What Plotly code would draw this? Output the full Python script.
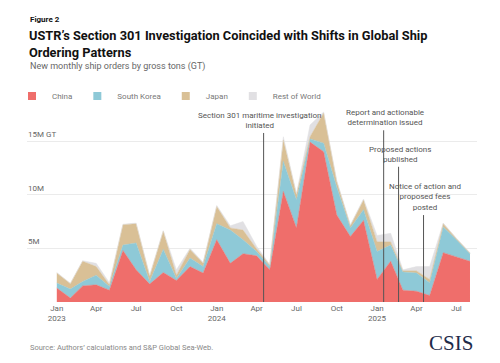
import plotly.graph_objects as go

# ---- data (millions of gross tons), monthly Jan 2023 .. Aug 2025 ----
months = ["2023-01-01","2023-02-01","2023-03-01","2023-04-01","2023-05-01","2023-06-01",
          "2023-07-01","2023-08-01","2023-09-01","2023-10-01","2023-11-01","2023-12-01",
          "2024-01-01","2024-02-01","2024-03-01","2024-04-01","2024-05-01","2024-06-01",
          "2024-07-01","2024-08-01","2024-09-01","2024-10-01","2024-11-01","2024-12-01",
          "2025-01-01","2025-02-01","2025-03-01","2025-04-01","2025-05-01","2025-06-01",
          "2025-07-01","2025-08-01"]
china = [1.3,0.37,1.5,1.6,1.1,4.8,3.0,1.67,2.75,2.0,3.3,2.7,
         5.8,3.6,4.5,4.3,3.0,10.3,6.9,14.9,14.0,8.1,6.1,7.6,
         2.1,3.8,1.1,1.0,0.6,4.6,4.2,3.8]
south_korea = [0.46,0.83,0.4,0.9,0.35,0.5,2.5,0.23,2.15,0.2,0.8,0.6,
               1.5,3.1,1.3,0.4,0.3,2.8,2.6,0.3,0.8,2.6,0.8,1.0,
               2.6,1.5,1.7,1.7,1.2,2.4,1.6,0.7]
japan = [0.94,0.5,1.9,0.8,0.15,1.9,1.8,0.5,1.7,0.3,0.8,0.3,
         1.6,0.2,0.9,0.25,0.15,2.0,0.5,0.2,2.8,0.5,0.2,0.9,
         0.9,0.3,0.1,0.2,0.3,0.3,0.1,0.05]
rest_of_world = [0.05,0.05,0.05,0.3,0.2,0.05,0.05,0.1,0.05,0.5,0.1,0.1,
                 0.1,0.2,0.8,0.25,0.05,0.3,0.1,1.1,0.1,0.1,0.1,0.1,
                 0.6,0.8,0.1,0.4,1.2,0.05,0.05,0.05]

series_names = ["China", "South Korea", "Japan", "Rest of World"]
series_values = [china, south_korea, japan, rest_of_world]
colors = ["#ef6e6b", "#8ec9d7", "#d9c096", "#e1e0e3"]

x_tickvals = ["2023-01-01","2023-04-01","2023-07-01","2023-10-01",
              "2024-01-01","2024-04-01","2024-07-01","2024-10-01",
              "2025-01-01","2025-04-01","2025-07-01"]
x_ticktext = ["Jan<br>2023","Apr","Jul","Oct","Jan<br>2024","Apr","Jul","Oct",
              "Jan<br>2025","Apr","Jul"]
y_tickvals = [5, 10, 15]
y_ticktext = ["5M", "10M", "15M GT"]

events = [
    ("2024-04-17", "Section 301 maritime investigation<br>initiated", 15.75, -4),
    ("2025-01-16", "Report and actionable<br>determination issued", 16.0, 1),
    ("2025-02-19", "Proposed actions<br>published", 12.6, 1),
    ("2025-04-17", "Notice of action and<br>proposed fees<br>posted", 8.1, 1),
]

# ---- layout geometry ----
W, H = 500, 363
ML, MR, MT, MB = 27, 23, 104, 61
PH = H - MT - MB

def py(pix):
    return (H - MB - pix) / PH

def px(pix):
    return (pix - ML) / (W - ML - MR)

FONT = "Roboto, Liberation Sans, sans-serif"

fig = go.Figure()
for name, vals, col in zip(series_names, series_values, colors):
    fig.add_trace(go.Scatter(
        x=months, y=vals, name=name, mode="lines", stackgroup="one",
        line=dict(width=0.5, color=col), fillcolor=col,
        showlegend=False, hoverinfo="skip", legendgroup=name))
for name, col in zip(series_names, colors):
    fig.add_trace(go.Scatter(
        x=[None], y=[None], name=name, mode="markers",
        marker=dict(symbol="square", size=8, color=col),
        showlegend=True, legendgroup=name))

shapes = []
annotations = []
for d, label, top, xs in events:
    shapes.append(dict(type="line", xref="x", yref="y", x0=d, x1=d, y0=0, y1=top,
                       line=dict(color="#555555", width=1), layer="above"))
    annotations.append(dict(x=d, y=top, xref="x", yref="y", text=label,
                            showarrow=False, xanchor="center", yanchor="bottom",
                            xshift=xs, yshift=1,
                            font=dict(family=FONT, size=8, color="#555555")))

# y-axis tick labels sitting above their gridlines at the left edge
for v, t in zip(y_tickvals, y_ticktext):
    annotations.append(dict(x=0, y=v, xref="paper", yref="y", text=t,
                            showarrow=False, xanchor="left", yanchor="bottom",
                            yshift=0, xshift=-1,
                            font=dict(family=FONT, size=8, color="#666666")))

annotations += [
    dict(x=px(28), y=py(20), xref="paper", yref="paper", text="<b>Figure 2</b>",
         showarrow=False, xanchor="left", yanchor="middle",
         font=dict(family=FONT, size=8, color="#111111")),
    dict(x=px(27), y=py(44), xref="paper", yref="paper",
         text="<b>USTR’s Section 301 Investigation Coincided with Shifts in Global Ship<br>Ordering Patterns</b>",
         showarrow=False, xanchor="left", yanchor="middle", align="left",
         font=dict(family=FONT, size=12.8, color="#111111")),
    dict(x=px(28), y=py(66), xref="paper", yref="paper",
         text="New monthly ship orders by gross tons (GT)",
         showarrow=False, xanchor="left", yanchor="middle",
         font=dict(family=FONT, size=9, color="#666666")),
    dict(x=px(28), y=py(347), xref="paper", yref="paper",
         text="Source: Authors’ calculations and S&amp;P Global Sea-Web.",
         showarrow=False, xanchor="left", yanchor="middle",
         font=dict(family=FONT, size=7.5, color="#888888")),
    dict(x=px(475), y=py(343), xref="paper", yref="paper", text="CSIS",
         showarrow=False, xanchor="right", yanchor="middle",
         font=dict(family="Liberation Serif, DejaVu Serif, serif", size=21, color="#1e2b4a")),
]

fig.update_layout(
    width=W, height=H,
    margin=dict(l=ML, r=MR, t=MT, b=MB, autoexpand=False),
    paper_bgcolor="white", plot_bgcolor="white",
    font=dict(family=FONT, size=8, color="#666666"),
    showlegend=True,
    legend=dict(orientation="h", x=px(12), y=py(96), xanchor="left", yanchor="middle",
                itemwidth=30, font=dict(family=FONT, size=8, color="#777777"),
                tracegroupgap=0, bgcolor="rgba(0,0,0,0)"),
    xaxis=dict(type="date", range=["2022-10-25", "2025-08-17"],
               tickvals=x_tickvals, ticktext=x_ticktext, showgrid=False,
               zeroline=False, showline=False, ticks="", automargin=False,
               tickfont=dict(family=FONT, size=8, color="#666666")),
    yaxis=dict(range=[0, 18.45], tickvals=y_tickvals, showticklabels=False,
               showgrid=True, gridcolor="#ebebeb", gridwidth=1,
               zeroline=False, showline=False, ticks="", automargin=False),
    shapes=shapes, annotations=annotations,
)

fig.write_html("out.html", config={"displayModeBar": False},
               post_script="document.body.style.margin='0';")
